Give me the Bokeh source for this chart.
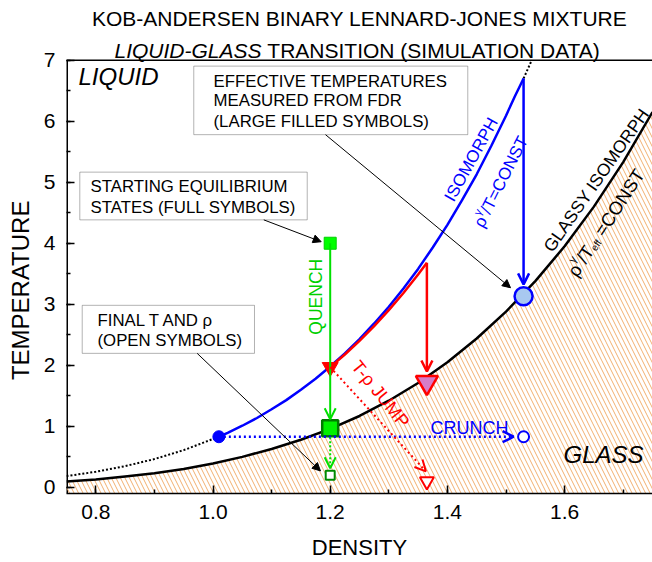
import math
from bokeh.plotting import figure
from bokeh.models import (Label, Arrow, OpenHead, NormalHead, BoxAnnotation, Range1d,
                          FixedTicker, PrintfTickFormatter)
from bokeh.embed import file_html
from bokeh.resources import INLINE

# ---------------- data ----------------
glass_rho = [0.75, 0.80, 0.85, 0.90, 0.95, 1.00, 1.05, 1.10, 1.15, 1.20, 1.25,
             1.30, 1.35, 1.40, 1.45, 1.50, 1.55, 1.60, 1.65, 1.70, 1.75]
glass_T = [0.095, 0.13, 0.18, 0.23, 0.30, 0.39, 0.50, 0.63, 0.78, 0.96, 1.17,
           1.42, 1.71, 2.05, 2.44, 2.88, 3.38, 3.95, 4.60, 5.33, 6.15]
iso_rho = [1.01, 1.025, 1.05, 1.075, 1.10, 1.125, 1.15, 1.175, 1.20, 1.225, 1.25,
           1.275, 1.30, 1.325, 1.35, 1.375, 1.40, 1.425, 1.45, 1.475, 1.50, 1.515, 1.53]
iso_T = [0.83, 0.894, 1.01, 1.137, 1.28, 1.43, 1.60, 1.78, 1.98, 2.195, 2.43,
         2.686, 2.96, 3.26, 3.58, 3.93, 4.30, 4.705, 5.13, 5.597, 6.09, 6.405, 6.70]
iso_dot_lo_rho = [0.75, 0.80, 0.85, 0.90, 0.95, 1.01]
iso_dot_lo_T = [0.185, 0.256, 0.348, 0.464, 0.610, 0.83]
iso_dot_hi_rho = [1.53, 1.544]
iso_dot_hi_T = [6.70, 7.00]
jump_rho = [1.20, 1.225, 1.25, 1.275, 1.30, 1.325, 1.35, 1.365]
jump_T = [1.97, 2.177, 2.40, 2.643, 2.905, 3.185, 3.488, 3.68]

start_quench = (1.20, 4.00)
start_jump = (1.20, 1.97)
start_crunch = (1.01, 0.83)
start_iso = (1.53, 6.70)
eff_quench = (1.20, 0.97)
eff_jump = (1.365, 1.72)
eff_iso = (1.53, 3.13)
fin_quench = (1.20, 0.20)
fin_jump = (1.365, 0.10)
fin_crunch = (1.53, 0.83)

x_ticks = [0.8, 1.0, 1.2, 1.4, 1.6]
x_minor = [0.8, 0.9, 1.0, 1.1, 1.2, 1.3, 1.4, 1.5, 1.6, 1.7]
y_ticks = [0, 1, 2, 3, 4, 5, 6, 7]
y_minor = [0, 0.5, 1, 1.5, 2, 2.5, 3, 3.5, 4, 4.5, 5, 5.5, 6, 6.5, 7]

# ---------------- figure ----------------
FONT = "Liberation Sans"
X0, X1, Y0, Y1 = 0.75, 1.75, -0.1, 7.0
W, H = 652, 562
BL, BR, BB = 66, 0, 66
TOPGAP = 60                      # pixels of title room above T = 7
XPX = (W - BL - BR) / (X1 - X0)
YPX = (H - TOPGAP - BB) / (Y1 - Y0)
YTOP = Y1 + TOPGAP / YPX

p = figure(width=W, height=H, x_range=Range1d(X0, X1), y_range=Range1d(Y0, YTOP),
           output_backend="svg", toolbar_location=None,
           min_border_left=BL, min_border_right=BR, min_border_top=0, min_border_bottom=BB)
p.xgrid.visible = False
p.ygrid.visible = False
p.outline_line_color = None
p.background_fill_color = "white"
p.border_fill_color = "white"

for ax in (p.xaxis[0], p.yaxis[0]):
    ax.axis_line_width = 1.5
    ax.major_tick_line_width = 1.5
    ax.minor_tick_line_width = 1.5
    ax.major_tick_in = 8
    ax.major_tick_out = 0
    ax.minor_tick_in = 4
    ax.minor_tick_out = 0
    ax.major_label_text_font = FONT
    ax.major_label_text_font_size = "21px"
    ax.major_label_text_color = "black"
    ax.axis_label_text_font = FONT
    ax.axis_label_text_font_style = "normal"
    ax.axis_label_text_color = "black"
    ax.major_label_standoff = 11

p.xaxis[0].ticker = FixedTicker(ticks=x_ticks, minor_ticks=x_minor)
p.yaxis[0].ticker = FixedTicker(ticks=y_ticks, minor_ticks=y_minor)
p.xaxis[0].formatter = PrintfTickFormatter(format="%.1f")
p.yaxis[0].formatter = PrintfTickFormatter(format="%d")
p.xaxis[0].axis_label = "DENSITY"
# trailing no-break spaces move the centred label down to the middle of T = 0..7
p.yaxis[0].axis_label = "TEMPERATURE" + "\u00a0" * 13
p.xaxis[0].axis_label_text_font_size = "22px"
p.yaxis[0].axis_label_text_font_size = "24px"
p.xaxis[0].axis_label_standoff = 13
p.yaxis[0].axis_label_standoff = 7
p.yaxis[0].axis_line_color = None

# frame: left edge and top edge (up to T = 7 only)
p.segment(x0=[X0], y0=[Y0], x1=[X0], y1=[Y1], line_color="black", line_width=3)
p.segment(x0=[X0], y0=[Y1], x1=[X1], y1=[Y1], line_color="black", line_width=1.5)

p.varea(x=glass_rho, y1=[Y0] * len(glass_rho), y2=glass_T, fill_alpha=0,
        hatch_pattern="\\", hatch_color="#f2b070", hatch_scale=9, hatch_weight=1)

p.line(glass_rho, glass_T, line_color="black", line_width=2.5)
p.line(iso_dot_lo_rho, iso_dot_lo_T, line_color="black", line_width=2, line_dash="2 2")
p.line(iso_dot_hi_rho, iso_dot_hi_T, line_color="black", line_width=2, line_dash="2 2")
p.line(iso_rho, iso_T, line_color="#0000ff", line_width=2.5)
p.line(jump_rho, jump_T, line_color="#ff0000", line_width=2.5)


def arrow(x0, y0, x1, y1, color, width, dash="solid", size=11):
    p.add_layout(Arrow(x_start=x0, y_start=y0, x_end=x1, y_end=y1, line_color=color,
                       line_width=width, line_dash=dash,
                       end=OpenHead(size=size, line_color=color, line_width=width)))


arrow(start_crunch[0], start_crunch[1], fin_crunch[0] - 10 / XPX, fin_crunch[1],
      "#0000ff", 2.5, "2 3")
arrow(start_quench[0], start_quench[1], eff_quench[0], eff_quench[1] + 9 / YPX, "#00e000", 2)
arrow(eff_quench[0], eff_quench[1] - 9 / YPX, fin_quench[0], fin_quench[1] + 7 / YPX,
      "#00e000", 2, "2 2")
arrow(jump_rho[-1], jump_T[-1], eff_jump[0], eff_jump[1] + 11 / YPX, "#ff0000", 2.5)
arrow(start_jump[0], start_jump[1], fin_jump[0] - 1 / XPX, fin_jump[1] + 10 / YPX,
      "#ff0000", 2, "2 3")
arrow(start_iso[0], start_iso[1], eff_iso[0], eff_iso[1] + 12 / YPX, "#0000ff", 2.5)

p.scatter([start_crunch[0]], [start_crunch[1]], marker="circle", size=12,
          fill_color="#0000ff", line_color="#0000ff")
p.scatter([start_quench[0]], [start_quench[1]], marker="square", size=12,
          fill_color="#00ff00", line_color="#00d000")
p.scatter([start_jump[0]], [start_jump[1]], marker="inverted_triangle", size=16,
          fill_color="#ff0000", line_color="#ff0000")

p.scatter([eff_iso[0]], [eff_iso[1]], marker="circle", size=18,
          fill_color="#a8c8f0", line_color="#0000ff", line_width=2.5)
p.scatter([eff_quench[0]], [eff_quench[1]], marker="square", size=16,
          fill_color="#00f000", line_color="#007a00", line_width=2.5)
p.scatter([eff_jump[0]], [eff_jump[1]], marker="inverted_triangle", size=22,
          fill_color="#d67cc8", line_color="#ff0000", line_width=2.5)

p.scatter([fin_crunch[0]], [fin_crunch[1]], marker="circle", size=11,
          fill_color="white", line_color="#0000ff", line_width=2)
p.scatter([fin_quench[0]], [fin_quench[1]], marker="square", size=9,
          fill_color="white", line_color="#008a00", line_width=2)
p.scatter([fin_jump[0]], [fin_jump[1]], marker="inverted_triangle", size=14,
          fill_color="white", line_color="#ff0000", line_width=2)

# ---------------- text helpers ----------------
AW = {' ': 278, '-': 333, '/': 278, '=': 584, '(': 333, ')': 333, '.': 278,
      'A': 667, 'B': 667, 'C': 722, 'D': 722, 'E': 667, 'F': 611, 'G': 778, 'H': 722,
      'I': 278, 'J': 500, 'K': 667, 'L': 556, 'M': 833, 'N': 722, 'O': 778, 'P': 667,
      'Q': 778, 'R': 722, 'S': 667, 'T': 611, 'U': 722, 'V': 667, 'W': 944, 'X': 667,
      'Y': 667, 'Z': 611, 'e': 556, 'f': 278, 'ρ': 578, 'γ': 500}


def tw(t, s):
    return sum(AW.get(c, 556) for c in t) / 1000.0 * s


def label(x, y, text, size, color="black", align="left", baseline="middle",
          style="normal", angle=0.0):
    p.add_layout(Label(x=x, y=y, text=text, text_font=FONT,
                       text_font_size=f"{size}px", text_color=color, text_align=align,
                       text_baseline=baseline, text_font_style=style,
                       angle=math.radians(angle)))


def rich(runs, cx, cy, ang, color="black"):
    a = math.radians(ang)
    ux, uy = math.cos(a), math.sin(a)
    nx, ny = -math.sin(a), math.cos(a)
    total = sum(tw(t, s) for t, s, _, _ in runs)
    cap = 0.716 * runs[0][1]
    b = -total / 2
    for t, s, sh, st in runs:
        lead = len(t) - len(t.lstrip(" "))
        b += tw(" " * lead, s)
        t = t.lstrip(" ")
        ox = b * ux + (sh - cap / 2) * nx
        oy = b * uy + (sh - cap / 2) * ny
        label(cx + ox / XPX, cy + oy / YPX, t, s, color, "left", "alphabetic", st, ang)
        b += tw(t, s)


label(1.25, 7.684, "KOB-ANDERSEN BINARY LENNARD-JONES MIXTURE", 21, align="center")
rich([("LIQUID-GLASS", 21, 0, "italic"), (" TRANSITION (SIMULATION DATA)", 21, 0, "normal")],
     1.25, 7.28, 0)

label(0.7705, 6.73, "LIQUID", 24, style="italic")
label(1.6664, 0.535, "GLASS", 24, align="center", style="italic")


def box(l, r, t, b):
    p.add_layout(BoxAnnotation(left=l, right=r, top=t, bottom=b, fill_color="white",
                               fill_alpha=1, line_color="black", line_width=1))


box(0.9672, 1.4348, 6.902, 5.779)
label(1.0009, 6.658, "EFFECTIVE TEMPERATURES", 16.8)
label(1.0009, 6.333, "MEASURED FROM FDR", 16.8)
label(1.0009, 5.991, "(LARGE FILLED SYMBOLS)", 16.8)

box(0.7727, 1.1608, 5.165, 4.383)
label(0.791, 4.932, "STARTING EQUILIBRIUM", 16.8)
label(0.791, 4.582, "STATES (FULL SYMBOLS)", 16.8)

box(0.7768, 1.0708, 2.983, 2.196)
label(0.8029, 2.733, "FINAL T AND ρ", 16.8)
label(0.8029, 2.408, "(OPEN SYMBOLS)", 16.8)


def pointer(x0, y0, x1, y1):
    p.add_layout(Arrow(x_start=x0, y_start=y0, x_end=x1, y_end=y1, line_color="black",
                       line_width=1, end=NormalHead(size=8, fill_color="black",
                                                    line_color="black", line_width=1)))


pointer(1.192, 5.779, 1.5077, 3.271)
pointer(1.0867, 4.383, 1.1846, 4.025)
pointer(0.973, 2.196, 1.1834, 0.27)

label(1.1766, 3.124, "QUENCH", 17.5, "#00d000", "center", "middle", angle=90)
label(1.2858, 1.528, "T-ρ JUMP", 18, "#ff0000", "center", "middle", angle=-51)
label(1.3712, 0.975, "CRUNCH", 18, "#0000ff")

label(1.4408, 5.372, "ISOMORPH", 17, "#0000ff", "center", "middle", angle=61)
rich([("ρ", 17, 0, "normal"), ("γ", 11, 7, "normal"), ("/T=CONST", 17, 0, "normal")],
     1.4821, 5.046, 63, "#0000ff")

label(1.6541, 5.033, "GLASSY ISOMORPH", 17.5, "black", "center", "middle", angle=55)
rich([("ρ", 18.5, 0, "normal"), ("γ", 11, 8, "normal"), ("/T", 18.5, 0, "normal"),
      ("eff", 10, -4, "normal"), (" =CONST", 18.5, 0, "normal")],
     1.661, 4.39, 56.7, "black")

open("out.html", "w").write(file_html(p, INLINE))
